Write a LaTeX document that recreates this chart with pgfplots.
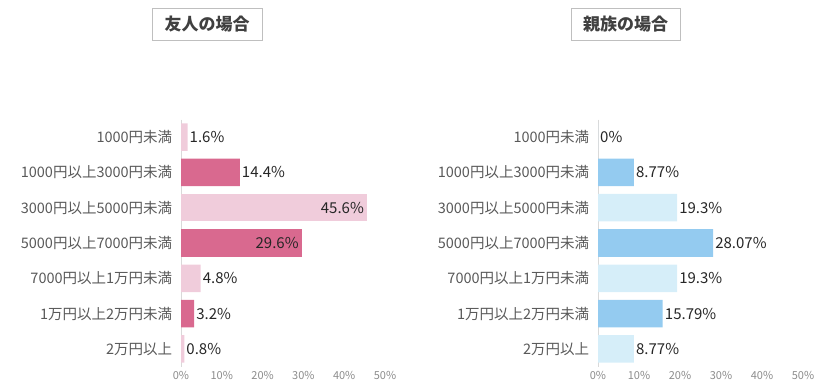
\documentclass[border=0pt]{standalone}
\usepackage{pgfplots}
\pgfplotsset{compat=1.18}
\usepackage{fontspec}
\setmainfont{Noto Sans CJK JP}
\definecolor{pinkD}{HTML}{D9698F}
\definecolor{pinkL}{HTML}{F0CCDB}
\definecolor{blueD}{HTML}{94CBF0}
\definecolor{blueL}{HTML}{D6EEF9}
\definecolor{lab}{HTML}{595959}
\definecolor{tk}{HTML}{8C8C8C}
\definecolor{val}{HTML}{262626}
\definecolor{ttl}{HTML}{404040}
\pgfplotsset{mybar/.style={
  width=204pt, height=247pt, scale only axis,
  xbar, bar width=0.78, bar shift=0pt,
  xmin=0, xmax=50, ymin=-0.5, ymax=6.5, y dir=reverse,
  ytick={0,...,6},
  yticklabels={1000円未満,1000円以上3000円未満,3000円以上5000円未満,5000円以上7000円未満,7000円以上1万円未満,1万円以上2万円未満,2万円以上},
  xtick={0,10,...,50},
  xticklabel={\pgfmathprintnumber{\tick}\%},
  /pgf/number format/assume math mode=true,
  axis lines*=left,
  x axis line style={draw=none},
  y axis line style={draw=black!15, line width=0.8pt},
  tick style={draw=none},
  xticklabel style={font=\fontsize{11}{11}\selectfont, text=tk, yshift=-1pt},
  yticklabel style={font=\fontsize{14.5}{15}\selectfont, text=lab, xshift=-1pt},
  nodes near coords, point meta=explicit symbolic,
  nodes near coords align={horizontal},
  every node near coord/.append style={font=\fontsize{15}{15}\selectfont, text=val, inner sep=2pt, anchor=west},
  clip=false,
}}
\begin{document}
\begin{tikzpicture}
\useasboundingbox (0,0) rectangle (835pt,389pt);
\node[draw=black!25, line width=0.8pt, minimum width=110pt, minimum height=32pt, inner sep=0pt, font=\bfseries\fontsize{17}{17}\selectfont, text=ttl] at (207pt,365pt) {友人の場合};
\node[draw=black!25, line width=0.8pt, minimum width=109pt, minimum height=32pt, inner sep=0pt, font=\bfseries\fontsize{17}{17}\selectfont, text=ttl] at (625.5pt,365pt) {親族の場合};
\begin{axis}[mybar, at={(181pt,22.5pt)}, anchor=south west]
\addplot[fill=pinkL, draw=none] coordinates {(1.6,0) [1.6\%] (4.8,4) [4.8\%] (0.8,6) [0.8\%]};
\addplot[fill=pinkL, draw=none, every node near coord/.append style={anchor=east, xshift=-1pt}] coordinates {(45.6,2) [45.6\%]};
\addplot[fill=pinkD, draw=none] coordinates {(14.4,1) [14.4\%] (3.2,5) [3.2\%]};
\addplot[fill=pinkD, draw=none, every node near coord/.append style={anchor=east, xshift=-1pt}] coordinates {(29.6,3) [29.6\%]};
\end{axis}
\begin{axis}[mybar, width=205pt, at={(598pt,22.5pt)}, anchor=south west]
\addplot[fill=blueL, draw=none] coordinates {(0,0) [0\%] (19.3,2) [19.3\%] (19.3,4) [19.3\%] (8.77,6) [8.77\%]};
\addplot[fill=blueD, draw=none] coordinates {(8.77,1) [8.77\%] (28.07,3) [28.07\%] (15.79,5) [15.79\%]};
\end{axis}
\end{tikzpicture}
\end{document}
